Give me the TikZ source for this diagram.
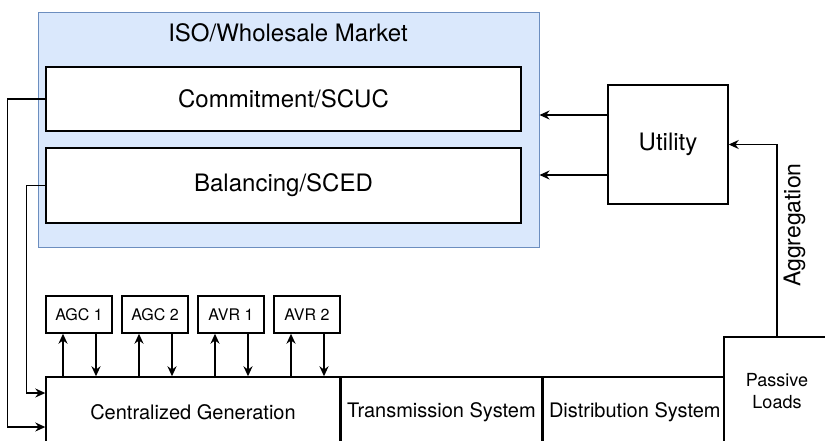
\documentclass[tikz,border=0pt]{standalone}
\usepackage{fontspec}
\setmainfont{TeX Gyre Heros}
\usetikzlibrary{arrows.meta,positioning}
\definecolor{isofill}{RGB}{218,232,252}
\definecolor{isoline}{RGB}{108,142,191}

\begin{document}
\begin{tikzpicture}[x=0.5pt, y=-0.5pt, >={Stealth[length=5pt,width=4.5pt]},
    line width=0.7pt]

  \clip (0,0) rectangle (825,440);

  \tikzset{
    blk/.style 2 args={draw, fill=white, inner sep=0pt, align=center,
                       minimum width=#1, minimum height=#2},
    bigtxt/.style={font=\fontsize{12pt}{14pt}\selectfont},
    midtxt/.style={font=\fontsize{10pt}{12pt}\selectfont},
    ctltxt/.style={font=\fontsize{8pt}{10pt}\selectfont},
    arr/.style={->}
  }

  % ISO / wholesale market block
  \node[draw=isoline, fill=isofill, line width=0.5pt, minimum width=250.5pt,
        minimum height=117.5pt] (iso) at (288.5, 129.5) {};
  \node[bigtxt] (isotitle) at (288, 33) {ISO/Wholesale Market};
  \node[blk={237.5pt}{32pt}, bigtxt]   (commit) at (283.5, 99)    {Commitment/SCUC};
  \node[blk={237.5pt}{37.5pt}, bigtxt] (bal)    at (283.5, 185.5) {Balancing/SCED};

  % Utility
  \node[blk={60pt}{59.5pt}, bigtxt] (util) at (668, 144.5) {Utility};

  % Generator controls
  \node[blk={33pt}{18.5pt}, ctltxt] (agc1) at (79, 314.5)  {AGC 1};
  \node[blk={33pt}{18.5pt}, ctltxt] (agc2) at (155, 314.5) {AGC 2};
  \node[blk={33pt}{18.5pt}, ctltxt] (avr1) at (231, 314.5) {AVR 1};
  \node[blk={33pt}{18.5pt}, ctltxt] (avr2) at (307, 314.5) {AVR 2};

  % Physical system row
  \node[blk={147pt}{35pt}, midtxt] (cg) at (193, 412) {Centralized Generation};
  \node[blk={100pt}{35pt}, midtxt, right=0pt of cg]    (trans) {Transmission System};
  \node[blk={92pt}{35pt}, midtxt, right=0pt of trans]  (dist)  {Distribution System};
  \node[blk={53pt}{54pt}, font=\fontsize{9pt}{11pt}\selectfont] (pload) at (777, 391)
    {Passive\\Loads};

  % Market signals to generation
  \draw[arr] (commit.west) -- ++(-38, 0) |- ([yshift=-7.5pt]cg.west);
  \draw[arr] (bal.west) -- ++(-19, 0) |- ([yshift=9.5pt]cg.west);

  % Utility bids into the market
  \coordinate (ua) at ([yshift=14.75pt]util.west);
  \coordinate (ub) at ([yshift=-15.25pt]util.west);
  \draw[arr] (ua) -- (ua -| iso.east);
  \draw[arr] (ub) -- (ub -| iso.east);

  % Load aggregation
  \draw[arr] (pload.north) |- (util.east)
    node[pos=0.29, rotate=90, anchor=north, inner sep=3pt,
         font=\fontsize{11.5pt}{13pt}\selectfont] (aggr) {Aggregation};

  % Control loops
  \foreach \n in {agc1, agc2, avr1, avr2} {
    \coordinate (u\n) at ([xshift=-8pt]\n.south);
    \coordinate (d\n) at ([xshift=8.5pt]\n.south);
    \draw[arr, line width=0.85pt] (u\n |- cg.north) -- (u\n);
    \draw[arr, line width=0.85pt] (d\n) -- (d\n |- cg.north);
  }

\end{tikzpicture}
\end{document}
